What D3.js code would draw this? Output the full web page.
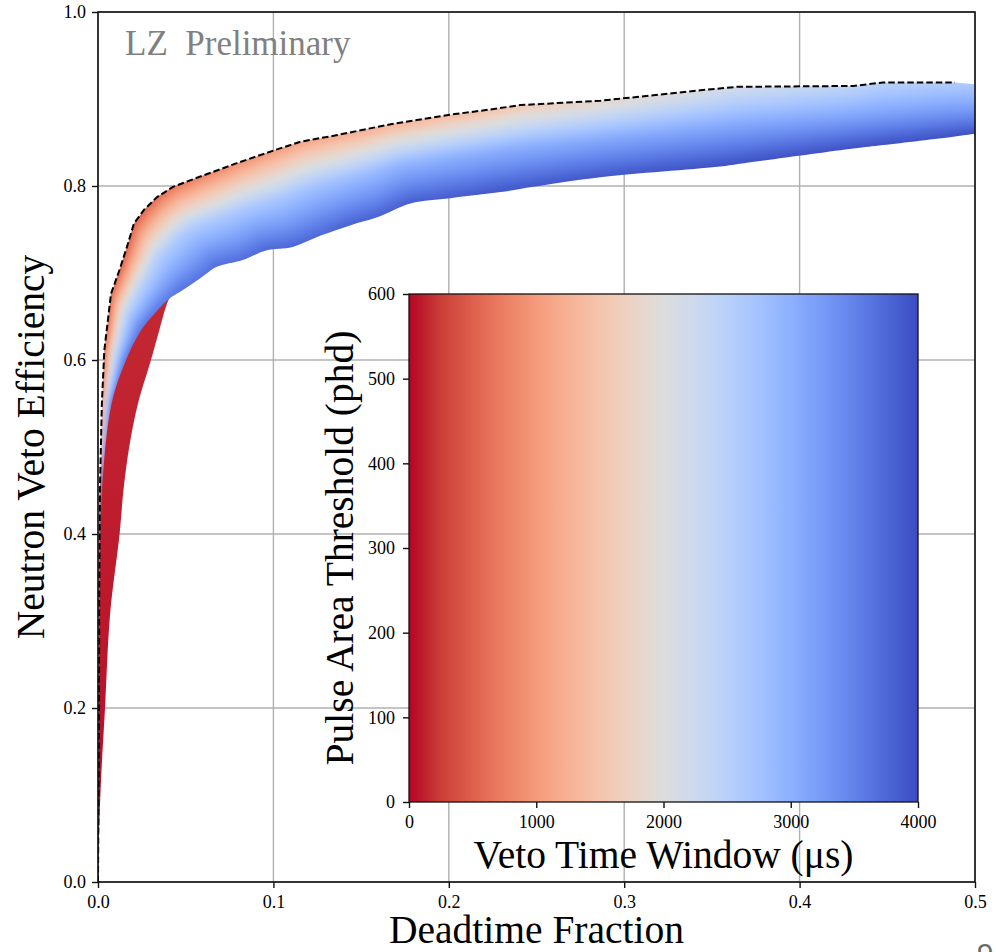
<!DOCTYPE html>
<html>
<head>
<meta charset="utf-8">
<script src="https://cdn.jsdelivr.net/npm/d3@7"></script>
<style>
  html, body { margin: 0; padding: 0; background: #fff; }
  svg text { font-family: "Liberation Serif", "Times New Roman", serif; }
</style>
</head>
<body>
<div id="chart"></div>
<script>
'use strict'

var width = 996
var height = 952
var serif = 'Liberation Serif, Times New Roman, serif'

// ---- values ----
var xTicks = [0.0, 0.1, 0.2, 0.3, 0.4, 0.5]
var yTicks = [0.0, 0.2, 0.4, 0.6, 0.8, 1.0]
var windowTicks = [0, 1000, 2000, 3000, 4000]
var thresholdTicks = [0, 100, 200, 300, 400, 500, 600]

// dashed best-efficiency envelope: [deadtime fraction, efficiency]
var envelope = [
  [0.0000, 0.000], [0.0003, 0.100], [0.0006, 0.250], [0.0007, 0.340], [0.0012, 0.460],
  [0.0022, 0.550], [0.0036, 0.611], [0.0074, 0.676], [0.0125, 0.705], [0.0165, 0.730],
  [0.0205, 0.757], [0.0264, 0.773], [0.0335, 0.787], [0.0427, 0.799], [0.0598, 0.812],
  [0.0788, 0.826], [0.1004, 0.841], [0.1156, 0.851], [0.1350, 0.858], [0.1520, 0.865],
  [0.1669, 0.871], [0.2010, 0.882], [0.2238, 0.888], [0.2409, 0.893], [0.2864, 0.898],
  [0.3434, 0.910], [0.3643, 0.914], [0.4307, 0.915], [0.4476, 0.919], [0.4886, 0.919]
]

// colored band, upper and lower edge taken at the same stations
var bandTop = [
  [0.0007, 0.340], [0.0012, 0.460], [0.0022, 0.550], [0.0036, 0.611], [0.0074, 0.676],
  [0.0125, 0.705], [0.0165, 0.730], [0.0205, 0.757], [0.0264, 0.773], [0.0335, 0.787],
  [0.0427, 0.799], [0.0598, 0.812], [0.0788, 0.826], [0.1004, 0.841], [0.1156, 0.851],
  [0.1350, 0.858], [0.1520, 0.865], [0.1669, 0.871], [0.2010, 0.882], [0.2238, 0.888],
  [0.2409, 0.893], [0.2864, 0.898], [0.3434, 0.910], [0.3643, 0.914], [0.4307, 0.915],
  [0.4476, 0.919], [0.4886, 0.919], [0.5000, 0.917]
]
var bandBottom = [
  [0.0008, 0.340], [0.0026, 0.460], [0.0078, 0.550], [0.0160, 0.600], [0.0245, 0.634],
  [0.0330, 0.655], [0.0416, 0.672], [0.0480, 0.680], [0.0540, 0.688], [0.0610, 0.698],
  [0.0674, 0.707], [0.0826, 0.715], [0.0958, 0.726], [0.1110, 0.730], [0.1270, 0.743],
  [0.1441, 0.755], [0.1592, 0.764], [0.1782, 0.780], [0.2010, 0.786], [0.2295, 0.793],
  [0.2483, 0.799], [0.2864, 0.810], [0.3530, 0.822], [0.3643, 0.825], [0.4307, 0.843],
  [0.4476, 0.847], [0.4886, 0.857], [0.5000, 0.860]
]
// veto window (us) whose colour shows at the top, middle and bottom of each station
var bandTopWindow = [
  800, 700, 600, 520, 480, 460, 460, 470, 500, 560, 640, 760, 880, 1000,
  1080, 1150, 1200, 1250, 1350, 1450, 1550, 1800, 2050, 2150, 2400, 2450, 2550, 2600
]
var bandMidWindow = [
  2300, 2300, 2300, 2300, 2350, 2400, 2450, 2500, 2550, 2600, 2600, 2650, 2650, 2700,
  2750, 2800, 2850, 2900, 2950, 3000, 3000, 3050, 3100, 3100, 3150, 3150, 3200, 3200
]
var bandBottomWindow = [
  3300, 3500, 3600, 3600, 3600, 3600, 3600, 3650, 3650, 3650, 3700, 3700, 3750, 3750,
  3750, 3800, 3800, 3850, 3850, 3900, 3900, 3900, 3950, 3950, 3950, 3950, 3950, 3950
]

// shortest windows: the dark red patch left below the band
var redPatch = [
  [0.0000, 0.000], [0.0005, 0.050], [0.0017, 0.116], [0.0040, 0.200], [0.0069, 0.308],
  [0.0123, 0.400], [0.0145, 0.450], [0.0178, 0.500], [0.0228, 0.550], [0.0302, 0.600],
  [0.0349, 0.634], [0.0400, 0.668], [0.0425, 0.676], [0.0250, 0.650], [0.0100, 0.600],
  [0.0030, 0.500], [0.0012, 0.460], [0.0007, 0.340], [0.0006, 0.250], [0.0003, 0.100]
]
var redPatchWindow = [20, 160] // bottom, top

// matplotlib coolwarm from 0 to 1
var coolwarm = [
  '#3b4cc0', '#4d68d7', '#6282ea', '#779af7', '#8db0fe', '#a3c2ff', '#b8d0f9', '#ccd9ee', '#dddddd',
  '#ecd3c5', '#f5c4ad', '#f7b194', '#f49a7b', '#ec7f63', '#de604d', '#cb3e38', '#b40426'
]

// ---- scales ----
var x = d3.scaleLinear().domain([0, 0.5]).range([98, 975])
var y = d3.scaleLinear().domain([0, 1]).range([882, 12])
var xi = d3.scaleLinear().domain([0, 4000]).range([409, 918])
var yi = d3.scaleLinear().domain([0, 600]).range([802, 294])

// red at 0 us, blue at 4000 us
var windowColor = d3.scaleLinear()
  .domain(coolwarm.map(function (c, i) { return 4000 - i * 4000 / (coolwarm.length - 1) }))
  .range(coolwarm)
  .interpolate(d3.interpolateRgb)
  .clamp(true)

var svg = d3.select('#chart').append('svg')
  .attr('width', width)
  .attr('height', height)
  .style('display', 'block')

svg.append('rect').attr('width', width).attr('height', height).attr('fill', '#fff')

var defs = svg.append('defs')
defs.append('clipPath').attr('id', 'plot-clip')
  .append('rect')
  .attr('x', x(0)).attr('y', y(1))
  .attr('width', x(0.5) - x(0)).attr('height', y(0) - y(1))

var pt = function (d) { return [x(d[0]), y(d[1])] }
var smooth = d3.line().curve(d3.curveCatmullRom.alpha(0.5))

// band outline: straight along the envelope, smoothed along the lower edge
var topPath = 'M' + bandTop.map(pt).concat([[x(0.5) + 20, y(0.917)], [x(0.5) + 20, y(0.860)]]).join('L')
var bottomPath = smooth(bandBottom.slice().reverse().map(pt)).replace(/^M/, 'L')
defs.append('clipPath').attr('id', 'band-clip')
  .append('path')
  .attr('d', topPath + bottomPath + 'Z')

// soften the seams between cells
defs.append('filter').attr('id', 'soften')
  .attr('filterUnits', 'userSpaceOnUse')
  .attr('x', 0).attr('y', 0).attr('width', width).attr('height', height)
  .append('feGaussianBlur').attr('stdDeviation', 2.5)

// ---- grid ----
var grid = svg.append('g').attr('stroke', '#b0b0b0').attr('stroke-width', 1.4)
grid.selectAll('line.gx').data(xTicks).join('line')
  .attr('x1', d => x(d)).attr('x2', d => x(d))
  .attr('y1', y(0)).attr('y2', y(1))
grid.selectAll('line.gy').data(yTicks).join('line')
  .attr('y1', d => y(d)).attr('y2', d => y(d))
  .attr('x1', x(0)).attr('x2', x(0.5))

var plot = svg.append('g').attr('clip-path', 'url(#plot-clip)')

// ---- red patch ----
var redGrad = defs.append('linearGradient').attr('id', 'red-grad')
  .attr('gradientUnits', 'userSpaceOnUse')
  .attr('x1', 0).attr('x2', 0).attr('y1', y(0)).attr('y2', y(0.68))
redGrad.append('stop').attr('offset', 0).attr('stop-color', windowColor(redPatchWindow[0]))
redGrad.append('stop').attr('offset', 1).attr('stop-color', windowColor(redPatchWindow[1]))

plot.append('path')
  .attr('d', smooth(redPatch.map(pt)) + 'Z')
  .attr('fill', 'url(#red-grad)')

// ---- band: cells across each pair of stations ----
function windowAt (f, a, b, c) {
  f = Math.max(0, Math.min(1, f))
  return f <= 0.5 ? a + (b - a) * f * 2 : b + (c - b) * (f - 0.5) * 2
}
function across (i, f, shift) {
  var t = pt(bandTop[i]); var b = pt(bandBottom[i])
  return [t[0] + (b[0] - t[0]) * f + shift, t[1] + (b[1] - t[1]) * f]
}
var band = plot.append('g').attr('clip-path', 'url(#band-clip)')
  .append('g').attr('filter', 'url(#soften)')
var nSt = bandTop.length
var levels = 30
var fLo = -0.2
var fHi = 1.2
var cellId = 0
d3.range(nSt).forEach(function (i) {
  var last = i === nSt - 1
  var j = last ? i : i + 1
  var shift = last ? 30 : 0
  d3.range(levels).forEach(function (k) {
    var f0 = fLo + (fHi - fLo) * k / levels
    var f1 = fLo + (fHi - fLo) * (k + 1) / levels
    var fm = (f0 + f1) / 2
    var a = across(i, f0, 0); var b = across(j, f0, shift)
    var c = across(j, f1, shift); var d = across(i, f1, 0)
    var id = 'cell' + cellId++
    var g = defs.append('linearGradient').attr('id', id)
      .attr('gradientUnits', 'userSpaceOnUse')
      .attr('x1', (a[0] + d[0]) / 2).attr('y1', (a[1] + d[1]) / 2)
      .attr('x2', (b[0] + c[0]) / 2 + 0.01).attr('y2', (b[1] + c[1]) / 2)
    g.append('stop').attr('offset', 0)
      .attr('stop-color', windowColor(windowAt(fm, bandTopWindow[i], bandMidWindow[i], bandBottomWindow[i])))
    g.append('stop').attr('offset', 1)
      .attr('stop-color', windowColor(windowAt(fm, bandTopWindow[j], bandMidWindow[j], bandBottomWindow[j])))
    band.append('path')
      .attr('d', 'M' + [a, b, c, d].join('L') + 'Z')
      .attr('fill', 'url(#' + id + ')')
      .attr('stroke', 'url(#' + id + ')')
      .attr('stroke-width', 1.2)
      .attr('stroke-linejoin', 'round')
  })
})

// ---- dashed envelope ----
plot.append('path')
  .datum(envelope)
  .attr('d', d3.line().x(d => x(d[0])).y(d => y(d[1])))
  .attr('fill', 'none')
  .attr('stroke', '#000')
  .attr('stroke-width', 2)
  .attr('stroke-dasharray', '6.5,3')

// ---- frame and axes ----
svg.append('rect')
  .attr('x', x(0)).attr('y', y(1))
  .attr('width', x(0.5) - x(0)).attr('height', y(0) - y(1))
  .attr('fill', 'none').attr('stroke', '#111').attr('stroke-width', 1.6)

function styleAxis (g) {
  g.attr('font-family', serif).attr('font-size', 18)
  g.select('.domain').remove()
  g.selectAll('.tick line').attr('stroke', '#111').attr('stroke-width', 1.4)
  g.selectAll('.tick text')
    .attr('fill', '#000')
    .attr('font-family', serif)
    .attr('font-size', 18)
}

svg.append('g')
  .attr('transform', 'translate(0,' + y(0) + ')')
  .call(d3.axisBottom(x).tickValues(xTicks).tickFormat(d3.format('.1f')).tickSize(6).tickPadding(7))
  .call(styleAxis)
svg.append('g')
  .attr('transform', 'translate(' + x(0) + ',0)')
  .call(d3.axisLeft(y).tickValues(yTicks).tickFormat(d3.format('.1f')).tickSize(6).tickPadding(6))
  .call(styleAxis)

function title (sel) {
  return sel.attr('text-anchor', 'middle')
    .attr('font-family', serif).attr('font-size', 39.5)
}
svg.append('text')
  .attr('x', (x(0) + x(0.5)) / 2).attr('y', 943)
  .call(title)
  .text('Deadtime Fraction')
svg.append('text')
  .attr('transform', 'translate(44,' + (y(0) + y(1)) / 2 + ') rotate(-90)')
  .call(title)
  .text('Neutron Veto Efficiency')

svg.append('text')
  .attr('x', 125).attr('y', 55)
  .attr('fill', '#808080')
  .attr('font-family', serif).attr('font-size', 35)
  .style('white-space', 'pre')
  .text('LZ  Preliminary')

// ---- inset colour map ----
var cbar = defs.append('linearGradient').attr('id', 'cbar')
  .attr('x1', 0).attr('x2', 1).attr('y1', 0).attr('y2', 0)
d3.range(33).forEach(function (k) {
  cbar.append('stop').attr('offset', k / 32).attr('stop-color', windowColor(4000 * k / 32))
})

var inset = svg.append('g')
inset.append('rect')
  .attr('x', xi(0)).attr('y', yi(600))
  .attr('width', xi(4000) - xi(0)).attr('height', yi(0) - yi(600))
  .attr('fill', 'url(#cbar)')
  .attr('stroke', '#111').attr('stroke-width', 1.3)

inset.append('g')
  .attr('transform', 'translate(0,' + yi(0) + ')')
  .call(d3.axisBottom(xi).tickValues(windowTicks).tickFormat(d3.format('d')).tickSize(6).tickPadding(7))
  .call(styleAxis)
inset.append('g')
  .attr('transform', 'translate(' + xi(0) + ',0)')
  .call(d3.axisLeft(yi).tickValues(thresholdTicks).tickFormat(d3.format('d')).tickSize(6).tickPadding(8))
  .call(styleAxis)

inset.append('text')
  .attr('x', (xi(0) + xi(4000)) / 2).attr('y', 868)
  .call(title)
  .text('Veto Time Window (\u03bcs)')
inset.append('text')
  .attr('transform', 'translate(353,' + (yi(0) + yi(600)) / 2 + ') rotate(-90)')
  .call(title)
  .text('Pulse Area Threshold (phd)')

// page number peeking in at the corner
svg.append('text')
  .attr('x', 985).attr('y', 964)
  .attr('text-anchor', 'middle')
  .attr('fill', '#6b6b6b')
  .style('font-family', '"Liberation Sans", sans-serif').attr('font-size', 30)
  .text('9')
</script>
</body>
</html>
